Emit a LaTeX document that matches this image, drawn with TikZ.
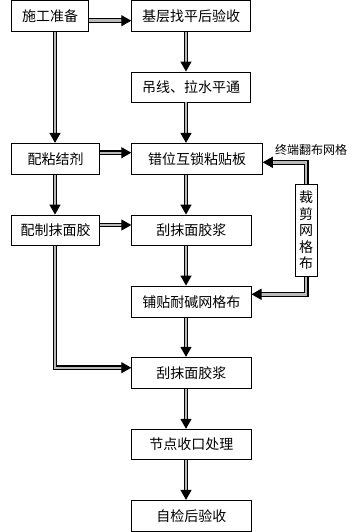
\documentclass[tikz,border=0pt]{standalone}
\usepackage{fontspec}
\newfontfamily\cjk{Noto Sans CJK SC}
\usetikzlibrary{arrows.meta}
\begin{document}
\begin{tikzpicture}[x=1pt,y=-1pt,
  box/.style={draw=black,line width=0.9pt,inner sep=0pt,minimum height=30.5pt,font=\cjk\fontsize{14}{16}\selectfont},
  flow/.style={double=gray!55,double distance=2.4pt,line width=1.2pt,-{Triangle[length=10pt,width=11pt]}},
  lbl/.style={font=\cjk\fontsize{12}{14}\selectfont,inner sep=0pt}]
\useasboundingbox (0,0) rectangle (361,532);
\node[box,minimum width=76.6pt] (A) at (50,15.9) {施工准备};
\node[box,minimum width=119pt] (B) at (191.2,15.9) {基层找平后验收};
\node[box,minimum width=119pt,minimum height=30pt] (C) at (191.2,87) {吊线、拉水平通};
\node[box,minimum width=87.6pt,minimum height=30.7pt] (D) at (55.5,158.7) {配粘结剂};
\node[box,minimum width=130.6pt,minimum height=30.7pt] (E) at (197,158.7) {错位互锁粘贴板};
\node[box,minimum width=87.6pt,minimum height=30.3pt] (F) at (55.5,230.2) {配制抹面胶};
\node[box,minimum width=119.3pt,minimum height=30.3pt] (G) at (191.4,230.2) {刮抹面胶浆};
\node[box,minimum width=119.3pt,minimum height=31.3pt] (H) at (191.4,301.7) {铺贴耐碱网格布};
\node[box,minimum width=119.3pt,minimum height=31pt] (I) at (191.4,372.8) {刮抹面胶浆};
\node[box,minimum width=119.3pt,minimum height=30pt] (J) at (191.4,444.3) {节点收口处理};
\node[box,minimum width=119.3pt,minimum height=30.7pt] (K) at (191.4,515.7) {自检后验收};
\node[box,minimum width=22.3pt,minimum height=92.4pt,align=center,font=\cjk\fontsize{14}{16.5}\selectfont] (L) at (306.2,230.5) {裁\\剪\\网\\格\\布};
\node[lbl] (T) at (311,150) {终端翻布网格};
% arrows
\draw[flow] (A.east |- 0,20.7) -- (B.west |- 0,20.7);
\draw[flow] (B.south -| 186,0) -- (C.north -| 186,0);
\draw[flow] (C.south -| 186,0) -- (E.north -| 186,0);
\draw[flow] (A.south -| 55,0) -- (D.north -| 55,0);
\draw[flow] (D.east |- 0,152.7) -- (E.west |- 0,152.7);
\draw[flow] (D.south -| 55,0) -- (F.north -| 55,0);
\draw[flow] (F.east |- 0,225) -- (G.west |- 0,225);
\draw[flow] (E.south -| 186,0) -- (G.north -| 186,0);
\draw[flow] (G.south -| 186,0) -- (H.north -| 186,0);
\draw[flow] (L.north) |- (E.east |- 0,162.3);
\draw[flow] (L.south) |- (H.east |- 0,294.3);
\draw[flow] (F.south -| 55,0) |- (I.west |- 0,367.7);
\draw[flow] (H.south -| 186,0) -- (I.north -| 186,0);
\draw[flow] (I.south -| 186,0) -- (J.north -| 186,0);
\draw[flow] (J.south -| 186,0) -- (K.north -| 186,0);
\end{tikzpicture}
\end{document}
